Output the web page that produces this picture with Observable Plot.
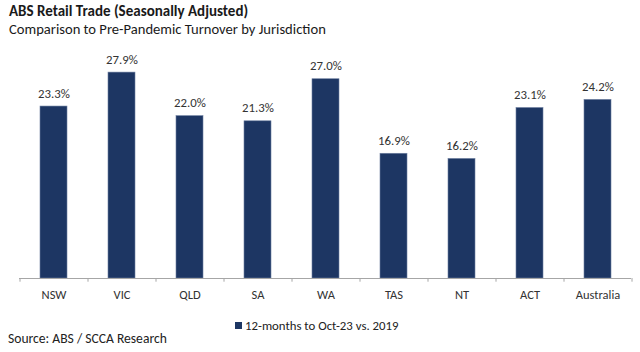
<!DOCTYPE html>
<html>
<head>
<meta charset="utf-8">
<script src="https://cdn.jsdelivr.net/npm/d3@7"></script>
<script src="https://cdn.jsdelivr.net/npm/@observablehq/plot@0.6"></script>
<style>
  html, body { margin: 0; padding: 0; background: #fff; }
  body { font-family: Carlito, Lato, "Open Sans", sans-serif; color: #222; }
  #wrap { position: relative; width: 640px; height: 352px; overflow: hidden; }
  #title { position: absolute; left: 9px; top: 2px; font-size: 15px; font-weight: bold; color: #1a1a1a; white-space: nowrap; }
  #subtitle { position: absolute; left: 9px; top: 20px; font-size: 14.6px; color: #1a1a1a; white-space: nowrap; }
  #chart { position: absolute; left: 0; top: 40px; }
  #legend { position: absolute; left: 235px; top: 318px; font-size: 12.8px; color: #222; white-space: nowrap; display: flex; align-items: center; }
  #legend .sw { display: inline-block; width: 7px; height: 7px; background: #1d3663; margin-right: 3px; }
  #source { position: absolute; left: 8px; top: 330px; font-size: 13.6px; color: #222; white-space: nowrap; }
</style>
</head>
<body>
<div id="wrap">
  <div id="title">ABS Retail Trade (Seasonally Adjusted)</div>
  <div id="subtitle">Comparison to Pre-Pandemic Turnover by Jurisdiction</div>
  <div id="chart"></div>
  <div id="legend"><span class="sw"></span><span id="legendText"></span></div>
  <div id="source">Source: ABS / SCCA Research</div>
</div>
<script>
const jurisdictions = ["NSW", "VIC", "QLD", "SA", "WA", "TAS", "NT", "ACT", "Australia"];
const changePct = [23.3, 27.9, 22.0, 21.3, 27.0, 16.9, 16.2, 23.1, 24.2];
const seriesName = "12-months to Oct-23 vs. 2019";

const data = jurisdictions.map((j, i) => ({ jurisdiction: j, value: changePct[i] }));
document.getElementById("legendText").textContent = seriesName;

const barColor = "#1d3663";
const axisColor = "#a6a6a6";

const chart = Plot.plot({
  width: 640,
  height: 270,
  marginLeft: 19,
  marginRight: 9,
  marginTop: 16.6,
  marginBottom: 32,
  style: { fontFamily: "Carlito, Lato, 'Open Sans', sans-serif", color: "#333", background: "#fff" },
  x: { domain: jurisdictions, paddingInner: 0.61, paddingOuter: 0.305, label: null },
  y: { domain: [0, 30], axis: null },
  marks: [
    Plot.barY(data, { x: "jurisdiction", y: "value", fill: barColor, stroke: "#6d7fa0", strokeWidth: 0.6 }),
    Plot.ruleY([0], { stroke: axisColor, strokeWidth: 1 }),
    Plot.ruleX(jurisdictions, { x: d => d, dx: 34, y1: 0, y2: -0.5, stroke: axisColor }),
    Plot.ruleX([jurisdictions[0]], { x: d => d, dx: -34, y1: 0, y2: -0.5, stroke: axisColor }),
    Plot.text(data, { x: "jurisdiction", y: "value", text: d => d.value.toFixed(1) + "%", dy: -13, fontSize: 12.8, fill: "#333" }),
    Plot.axisX({ tickSize: 0, tickPadding: 12, fontSize: 12.5, color: "#333" })
  ]
});
document.getElementById("chart").appendChild(chart);
</script>
</body>
</html>
